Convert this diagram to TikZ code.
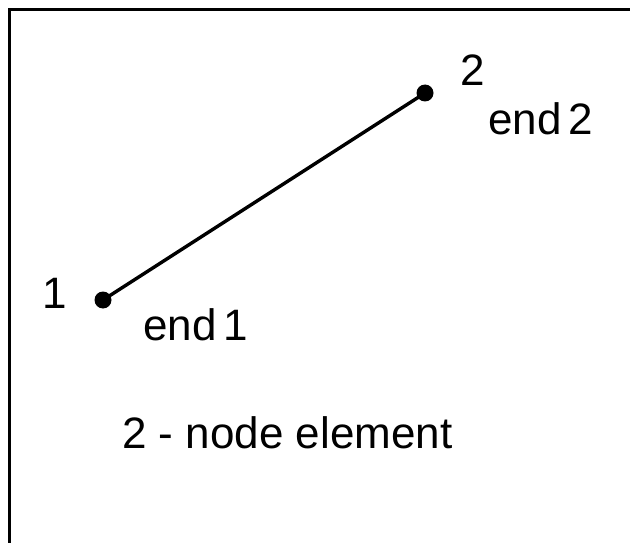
\documentclass[tikz,border=0pt]{standalone}
\usepackage{fontspec}
\setmainfont{Liberation Sans}
\usepackage{tikz}

\begin{document}
\begin{tikzpicture}[x=1pt, y=-1pt,
    endpt/.style={circle, fill=black, inner sep=0pt, minimum size=17pt},
    lbl/.style={font=\fontsize{44}{50}\selectfont, inner sep=0pt}]
        \useasboundingbox (0,0) rectangle (630,543);
        \draw[line width=3pt] (9,543) -- (9,10) -- (630,10);
        \node[endpt] (n1) at (103,300) {};
        \node[endpt] (n2) at (425,93) {};
        \draw[line width=3.4pt] (n1.center) -- (n2.center);
        \node[lbl, anchor=base] (num1) at (55,308) {1};
        \node[lbl, anchor=base] (num2) at (473,85) {2};
        \node[lbl, anchor=base west] (end1) at (143,340) {end\,1};
        \node[lbl, anchor=base west] (end2) at (488,135) {end\,2};
        \node[lbl, anchor=base west] (title) at (122,448) {2 - node element};
      \end{tikzpicture}
\end{document}
